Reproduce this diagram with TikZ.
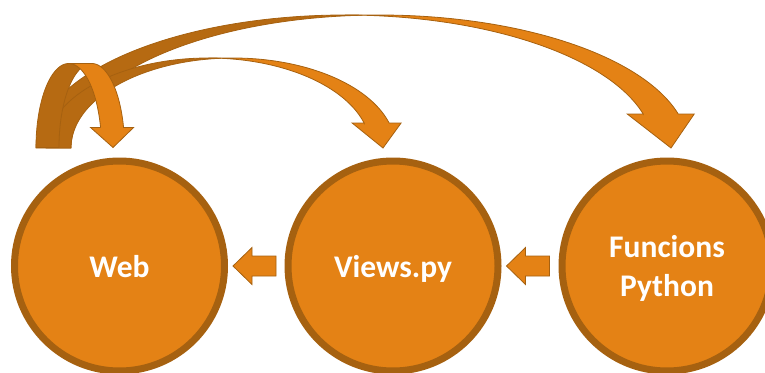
\documentclass[tikz,border=0pt]{standalone}
\usepackage{fontspec}
\setmainfont{Carlito}
\usetikzlibrary{calc}
\definecolor{orfill}{RGB}{228,130,21}
\definecolor{orback}{RGB}{182,106,18}
\definecolor{orline}{RGB}{166,97,16}
\tikzset{
  cvback/.style={fill=orback, draw=orline, line width=0.8pt, line join=round},
  cvfront/.style={fill=orfill, draw=orline, line width=0.8pt, line join=miter},
  bigcirc/.style={circle, draw=orline, line width=7pt, fill=orfill, minimum size=210pt,
    inner sep=0pt, text=white, font=\bfseries\fontsize{31.5}{39}\selectfont, align=center,
    text depth=0pt},
  blockarr/.style={fill=orfill, draw=orline, line width=0.8pt}
}
% #1 left foot x, #2 bottom y, #3 height, #4 ellipse x-radius, #5 shaft width, #6 head length, #7 head width
\newcommand\curvarrow[7]{%
\begin{scope}
\pgfmathsetmacro\cvX{#1}%
\pgfmathsetmacro\cvB{#2}%
\pgfmathsetmacro\cvH{#3}%
\pgfmathsetmacro\cvW{#4}%
\pgfmathsetmacro\cvT{#5}%
\pgfmathsetmacro\cvAh{#6}%
\pgfmathsetmacro\cvAw{#7}%
\pgfmathsetmacro\cvCa{\cvX+\cvW}%
\pgfmathsetmacro\cvCb{\cvX+\cvW+\cvT}%
\pgfmathsetmacro\cvTa{acos(\cvT/(2*\cvW))}%
\pgfmathsetmacro\cvTb{180-\cvTa}%
\pgfmathsetmacro\cvPhi{asin(\cvAh/\cvH)}%
\pgfmathsetmacro\cvDx{\cvW*cos(\cvPhi)}%
\pgfmathsetmacro\cvDh{(\cvAw-\cvT)/2}%
\pgfmathsetmacro\cvTip{\cvX+2*\cvW+\cvT/2}%
\pgfmathsetmacro\cvY{\cvB-\cvAh}%
\draw[cvback] plot[domain=180:\cvTa,samples=90] ({\cvCa+\cvW*cos(\x)},{\cvB-\cvH*sin(\x)})
   -- plot[domain=\cvTb:180,samples=90] ({\cvCb+\cvW*cos(\x)},{\cvB-\cvH*sin(\x)}) -- cycle;
\draw[cvfront] (\cvTip,\cvB) -- ({\cvCa+\cvDx-\cvDh},\cvY) -- ({\cvCa+\cvDx},\cvY)
   -- plot[domain=\cvPhi:90,samples=90] ({\cvCa+\cvW*cos(\x)},{\cvB-\cvH*sin(\x)})
   -- plot[domain=90:\cvPhi,samples=90] ({\cvCb+\cvW*cos(\x)},{\cvB-\cvH*sin(\x)})
   -- ({\cvCb+\cvDx+\cvDh},\cvY) -- cycle;
\end{scope}}
\begin{document}
\begin{tikzpicture}[x=1pt,y=-1pt]
\useasboundingbox (0,0) rectangle (765,372);
\clip (0,0) rectangle (765,372);
% curved arrows (large to Funcions, medium to Views, small loop to Web)
\curvarrow{36}{148}{133}{308.75}{35}{34}{67}
\curvarrow{46}{148}{90}{162.25}{25}{25}{49}
\curvarrow{36}{147.5}{84}{32.75}{23}{20}{43}
% circles
\node[bigcirc] (web) at (119.5,266) {Web};
\node[bigcirc] (views) at (393,266) {Views.py};
\node[bigcirc] (func) at (667,266) {Funcions\\Python};
% block arrows
\draw[blockarr] ($(web.east)+(5,0)$) -- ++(19,-18.5) -- ++(0,8.5) -- ++(24,0) -- ++(0,20)
   -- ++(-24,0) -- ++(0,8.5) -- cycle;
\draw[blockarr] ($(views.east)+(5,0)$) -- ++(19,-18.5) -- ++(0,8.5) -- ++(24,0) -- ++(0,20)
   -- ++(-24,0) -- ++(0,8.5) -- cycle;
\end{tikzpicture}
\end{document}
